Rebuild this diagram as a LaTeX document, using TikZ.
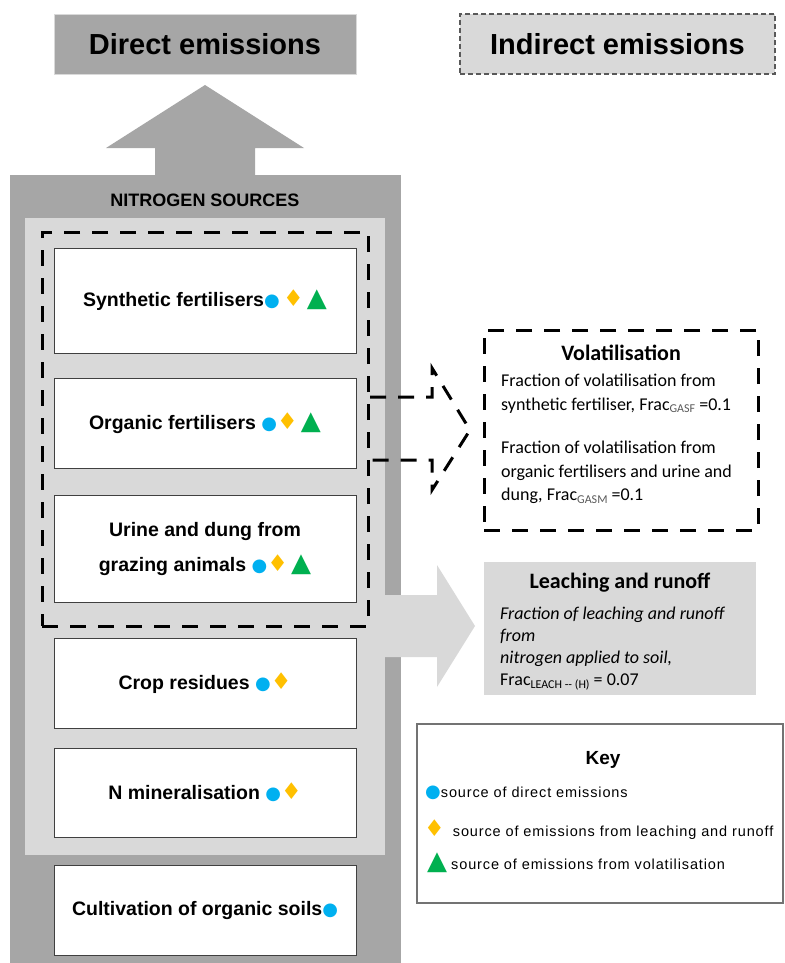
\documentclass[tikz,border=0pt]{standalone}
\usepackage{fontspec}
\setmainfont{Liberation Sans}
\newfontfamily\calibri{Carlito}
\newfontfamily\symfont{DejaVu Sans}
\usetikzlibrary{positioning}

\definecolor{darkgrey}{HTML}{A6A6A6}
\definecolor{lightgrey}{HTML}{D9D9D9}
\definecolor{nblue}{HTML}{00B0F0}
\definecolor{ngold}{HTML}{FFC000}
\definecolor{ngreen}{HTML}{00B050}

\newcommand{\dirsym}{{\symfont\fontsize{18}{17}\selectfont\color{nblue}●}}
\newcommand{\leachsym}{{\symfont\fontsize{23}{17}\selectfont\color{ngold}♦}}
\newcommand{\volsym}{{\symfont\fontsize{26}{17}\selectfont\color{ngreen}▲}}
\newcommand{\fracsub}[1]{\raisebox{-2.5pt}{\fontsize{12}{12}\selectfont\color{black!65}#1}}

\begin{document}
\begin{tikzpicture}[x=1pt, y=-1pt,
    headbox/.style={minimum width=302pt, minimum height=60pt, inner sep=0pt,
        font=\fontsize{29}{32}\selectfont\bfseries},
    srcbox/.style={draw=black!75, fill=white, line width=0.8pt, minimum width=302pt,
        minimum height=#1, inner sep=0pt, align=center,
        font=\fontsize{19.5}{35}\selectfont\bfseries},
    dashbox/.style={draw=black, line width=3pt, dash pattern=on 16pt off 12pt},
    bodytext/.style={align=left, inner sep=0pt, font=\calibri\fontsize{18}{23.5}\selectfont},
    keyitem/.style={anchor=west, inner sep=0pt, font=\fontsize{14.5}{16}\selectfont}]
    \useasboundingbox (0,0) rectangle (784,963);

    % Headings
    \node[headbox, fill=darkgrey, draw=black!15] (direct) at (205,44) {Direct emissions};
    \node[headbox, minimum width=315pt, fill=lightgrey, draw=black!65, line width=1.5pt,
        dash pattern=on 5pt off 3pt] (indirect) at (617.5,44) {Indirect emissions};

    % Nitrogen sources panel and arrow up
    \fill[darkgrey] (155,176) -- (155,148) -- (106,148) -- (205,85) -- (304,148)
        -- (255,148) -- (255,176) -- cycle;
    \fill[darkgrey] (10,175) rectangle (401,980);
    \fill[lightgrey] (25,218) rectangle (385,855);
    \node[font=\fontsize{18}{20}\selectfont\bfseries] (nsrc) at (205,200) {NITROGEN SOURCES};

    \node[dashbox, minimum width=326pt, minimum height=394pt] (volgroup) at (205,429) {};

    \node[srcbox=105pt] (synth) at (205,300.5) {Synthetic fertilisers\dirsym\,\leachsym\,\volsym};
    \node[srcbox=90pt] (organic) at (205,423) {Organic fertilisers \dirsym\leachsym\,\volsym};
    \node[srcbox=107pt] (urine) at (205,548.5) {Urine and dung from\\grazing animals \dirsym\leachsym\,\volsym};
    \node[srcbox=90pt] (crop) at (205,683) {Crop residues \dirsym\leachsym};
    \node[srcbox=89pt] (nmin) at (205,792.5) {N mineralisation \dirsym\leachsym};
    \node[srcbox=90pt] (cult) at (205,910) {Cultivation of organic soils\dirsym};

    % Volatilisation
    \node[dashbox, fill=white, minimum width=274pt, minimum height=200pt] (vol) at (621,430) {};
    \node[font=\calibri\fontsize{22}{24}\selectfont\bfseries] (voltitle) at (621,353) {Volatilisation};
    \node[bodytext, anchor=north west] (voltext) at (501,374)
        {Fraction of volatilisation from\\
         synthetic fertiliser, Frac\fracsub{GASF} =0.1\\[20pt]
         Fraction of volatilisation from\\
         organic fertilisers and urine and\\
         dung, Frac\fracsub{GASM} =0.1};
    \coordinate (vs) at (370,397);
    \coordinate (ve) at (368,460);
    \draw[dashbox] (vs) -- (432,397) -- (432,368) -- (470,430) -- (432,490)
        -- (432,460) -- (ve);

    % Leaching and runoff
    \fill[lightgrey] (385,595) -- (437,595) -- (437,565) -- (475,626) -- (437,687)
        -- (437,657) -- (385,657) -- cycle;
    \node[fill=lightgrey, minimum width=272pt, minimum height=133pt] (leach) at (620,628.5) {};
    \node[font=\calibri\fontsize{22}{24}\selectfont\bfseries] (leachtitle) at (620,583) {Leaching and runoff};
    \node[bodytext, anchor=north west, font=\calibri\fontsize{18}{22}\selectfont] (leachtext) at (500,607)
        {\itshape Fraction of leaching and runoff\\
         \itshape from\\
         \itshape nitrogen applied to soil,\\
         Frac{\raisebox{-2.5pt}{\fontsize{12}{12}\selectfont LEACH -- (H)}} = 0.07};

    % Key
    \node[draw=black!55, line width=1.2pt, fill=white, minimum width=366pt,
        minimum height=179pt] (key) at (600,813.5) {};
    \node[font=\fontsize{19}{22}\selectfont\bfseries] (keytitle) at (603,760) {Key};
    \node[keyitem] (k1) at (425,793) {\dirsym{\addfontfeature{LetterSpace=6}source of direct emissions}};
    \node[keyitem] (k2) at (424,830) {\leachsym\ \ \addfontfeature{LetterSpace=6}source of emissions from leaching and runoff};
    \node[keyitem] (k3) at (427,863) {\volsym\ \addfontfeature{LetterSpace=6}source of emissions from volatilisation};
\end{tikzpicture}
\end{document}
